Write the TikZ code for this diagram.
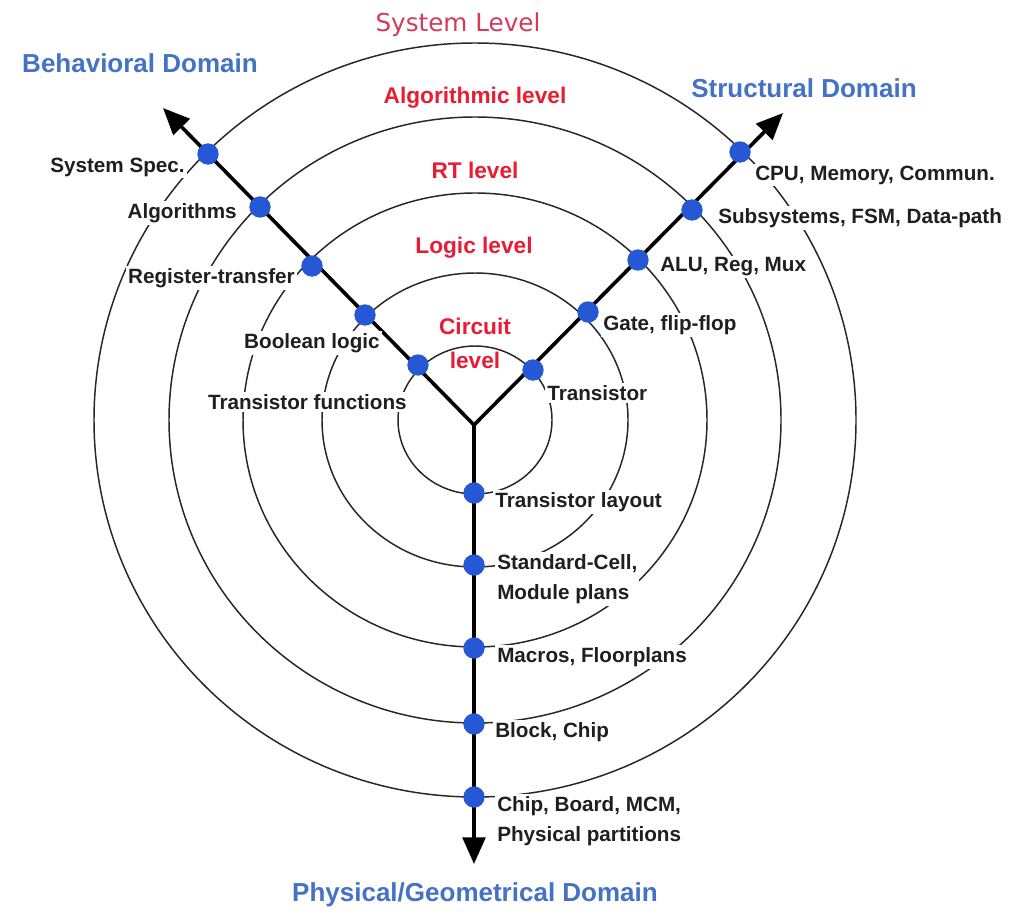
\documentclass[tikz,border=0pt]{standalone}
\usepackage{fontspec}
\setmainfont{Liberation Sans}
\newfontfamily\dejavu{DejaVu Sans}
\usetikzlibrary{arrows.meta}
\definecolor{domblue}{RGB}{68,114,196}
\definecolor{lvlred}{RGB}{232,28,52}
\definecolor{syspink}{RGB}{214,58,90}
\definecolor{dotblue}{RGB}{38,88,214}
\begin{document}
\begin{tikzpicture}[x=0.75pt,y=-0.75pt,
  ring/.style={draw=black!85, line width=1.1pt},
  arm/.style={line width=2.7pt, line join=miter},
  tip/.tip={Triangle[length=20pt,width=17pt]},
  dot/.style={circle, fill=dotblue, inner sep=0pt, minimum size=16pt},
  lbl/.style={fill=white, inner sep=1.5pt, font=\fontsize{15.5}{22.5}\selectfont\bfseries, text=black!88, align=left},
  lvl/.style={text=lvlred, font=\fontsize{17}{25.5}\selectfont\bfseries, align=center},
  dom/.style={text=domblue, font=\fontsize{19.5}{23}\selectfont\bfseries}]

\useasboundingbox (0,0) rectangle (1012,913);
\fill[white] (0,0) rectangle (1012,913);

% concentric level rings
\coordinate (C) at (475,420);
\foreach \rx/\ry in {77/74,153/147,232/227,306/303,381/377}
  \draw[ring] (C) ellipse [x radius=\rx*0.75pt, y radius=\ry*0.75pt];

% Y-chart arms
\coordinate (J) at (474,425);
\coordinate (tipL) at (163,108);
\coordinate (tipR) at (783,113);
\coordinate (tipB) at (474,864);
\draw[arm, tip-tip] (tipL) -- (J) -- (tipR);
\draw[arm, -tip] (J) -- (tipB);

% dots on behavioral arm
\node[dot] (b5) at (208,154) {};
\node[dot] (b4) at (260,207) {};
\node[dot] (b3) at (312,266) {};
\node[dot] (b2) at (365,315) {};
\node[dot] (b1) at (418,365) {};
% dots on structural arm
\node[dot] (s5) at (740,152) {};
\node[dot] (s4) at (692,210) {};
\node[dot] (s3) at (638,260) {};
\node[dot] (s2) at (588,312) {};
\node[dot] (s1) at (533,370) {};
% dots on physical arm
\node[dot] (p1) at (474,493) {};
\node[dot] (p2) at (474,565) {};
\node[dot] (p3) at (474,648) {};
\node[dot] (p4) at (474,724) {};
\node[dot] (p5) at (474,797) {};

% behavioral labels
\node[lbl, anchor=east] (lb5) at (187,167) {System Spec.};
\node[lbl, anchor=east] (lb4) at (239,213) {Algorithms};
\node[lbl, anchor=east] (lb3) at (297,278) {Register-transfer};
\node[lbl, anchor=east] (lb2) at (382,343) {Boolean logic};
\node[lbl, anchor=east] (lb1) at (409,402) {Transistor functions};
% structural labels
\node[lbl, anchor=west] (ls5) at (753,175) {CPU, Memory, Commun.};
\node[lbl, anchor=west] (ls4) at (716,218) {Subsystems, FSM, Data-path};
\node[lbl, anchor=west] (ls3) at (658,267) {ALU, Reg, Mux};
\node[lbl, anchor=west] (ls2) at (601,325) {Gate, flip-flop};
\node[lbl, anchor=west] (ls1) at (545,393) {Transistor};
% physical labels
\node[lbl, anchor=west] (lp1) at (493,502) {Transistor layout};
\node[lbl, anchor=west] (lp2) at (495,579) {Standard-Cell,\\Module plans};
\node[lbl, anchor=west] (lp3) at (495,657) {Macros, Floorplans};
\node[lbl, anchor=west] (lp4) at (493,732) {Block, Chip};
\node[lbl, anchor=west] (lp5) at (495,821) {Chip, Board, MCM,\\Physical partitions};

% level names
\node[text=syspink, font=\dejavu\fontsize{18.5}{22}\selectfont] (sys) at (458,25) {System Level};
\node[lvl] (alg) at (475,98) {Algorithmic level};
\node[lvl] (rt) at (475,170) {RT level};
\node[lvl] (logic) at (474,248) {Logic level};
\node[lvl] (circ) at (475,343) {Circuit\\level};

% domain names
\node[dom] (beh) at (140,63) {Behavioral Domain};
\node[dom] (str) at (804,88) {Structural Domain};
\node[dom] (phy) at (475,895) {Physical/Geometrical Domain};
\end{tikzpicture}
\end{document}
